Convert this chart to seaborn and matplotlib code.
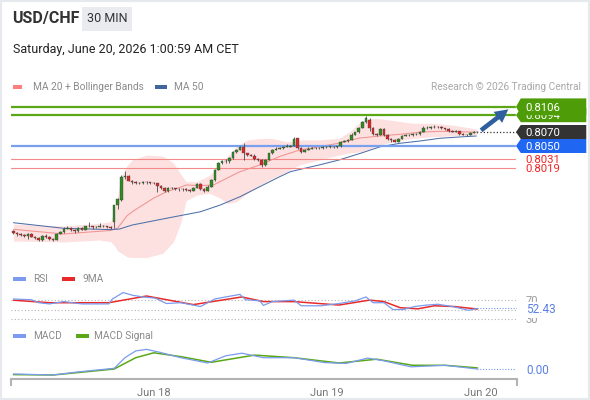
import numpy as np
import matplotlib
matplotlib.use("Agg")
import matplotlib.pyplot as plt
from matplotlib.patches import Polygon, Rectangle, FancyArrowPatch
import seaborn as sns

# ----------------------------------------------------------------------
# Data (USD/CHF, 30 min candles, oldest first)
# ----------------------------------------------------------------------
opens = [
    0.79286, 0.79257, 0.79236, 0.79229, 0.79221, 0.79236, 0.79207, 0.79186, 0.79150, 0.79214,
    0.79200, 0.79171, 0.79157, 0.79243, 0.79271, 0.79321, 0.79329, 0.79300, 0.79279, 0.79329,
    0.79307, 0.79350, 0.79350, 0.79336, 0.79343, 0.79350, 0.79350, 0.79343, 0.79414, 0.79657,
    0.79729, 0.80064, 0.80071, 0.80004, 0.79979, 0.79967, 0.79971, 0.79981, 0.79979, 0.79976,
    0.79967, 0.79929, 0.79900, 0.79853, 0.79900, 0.79896, 0.79890, 0.79879, 0.79881, 0.79871,
    0.79857, 0.79907, 0.79957, 0.79886, 0.79857, 0.79921, 0.80014, 0.80157, 0.80257, 0.80279,
    0.80279, 0.80329, 0.80414, 0.80443, 0.80479, 0.80393, 0.80371, 0.80364, 0.80314, 0.80300,
    0.80229, 0.80300, 0.80396, 0.80443, 0.80464, 0.80467, 0.80486, 0.80490, 0.80504, 0.80610,
    0.80471, 0.80421, 0.80443, 0.80464, 0.80467, 0.80476, 0.80467, 0.80481, 0.80486, 0.80490,
    0.80481, 0.80493, 0.80557, 0.80571, 0.80586, 0.80664, 0.80693, 0.80757, 0.80836, 0.80871,
    0.80753, 0.80671, 0.80664, 0.80743, 0.80657, 0.80600, 0.80579, 0.80564, 0.80607, 0.80643,
    0.80657, 0.80653, 0.80671, 0.80671, 0.80700, 0.80764, 0.80753, 0.80767, 0.80776, 0.80767,
    0.80757, 0.80743, 0.80721, 0.80707, 0.80714, 0.80671, 0.80661, 0.80657, 0.80686, 0.80696,
]
highs = [
    0.79300, 0.79271, 0.79250, 0.79243, 0.79250, 0.79250, 0.79221, 0.79200, 0.79229, 0.79236,
    0.79214, 0.79186, 0.79257, 0.79286, 0.79336, 0.79357, 0.79343, 0.79314, 0.79343, 0.79343,
    0.79364, 0.79414, 0.79364, 0.79364, 0.79400, 0.79371, 0.79364, 0.79364, 0.79664, 0.79757,
    0.80079, 0.80147, 0.80086, 0.80014, 0.79993, 0.79986, 0.79993, 0.79993, 0.79990, 0.79986,
    0.79971, 0.79943, 0.79914, 0.79914, 0.79914, 0.79907, 0.79900, 0.79900, 0.79893, 0.79886,
    0.79921, 0.79971, 0.79971, 0.79900, 0.79936, 0.80029, 0.80171, 0.80271, 0.80300, 0.80314,
    0.80343, 0.80429, 0.80464, 0.80500, 0.80543, 0.80407, 0.80386, 0.80379, 0.80329, 0.80314,
    0.80314, 0.80407, 0.80457, 0.80479, 0.80486, 0.80500, 0.80529, 0.80521, 0.80629, 0.80621,
    0.80479, 0.80457, 0.80479, 0.80479, 0.80490, 0.80486, 0.80493, 0.80500, 0.80507, 0.80500,
    0.80507, 0.80571, 0.80586, 0.80600, 0.80679, 0.80707, 0.80771, 0.80850, 0.80929, 0.80893,
    0.80771, 0.80686, 0.80757, 0.80757, 0.80671, 0.80614, 0.80593, 0.80621, 0.80657, 0.80671,
    0.80671, 0.80686, 0.80686, 0.80714, 0.80779, 0.80779, 0.80786, 0.80793, 0.80786, 0.80779,
    0.80764, 0.80750, 0.80729, 0.80729, 0.80721, 0.80679, 0.80671, 0.80700, 0.80714, 0.80714,
]
lows = [
    0.79240, 0.79221, 0.79214, 0.79207, 0.79171, 0.79193, 0.79171, 0.79136, 0.79143, 0.79186,
    0.79157, 0.79143, 0.79150, 0.79236, 0.79264, 0.79314, 0.79286, 0.79264, 0.79271, 0.79293,
    0.79300, 0.79336, 0.79321, 0.79329, 0.79336, 0.79336, 0.79329, 0.79314, 0.79329, 0.79600,
    0.79714, 0.80029, 0.79993, 0.79964, 0.79950, 0.79957, 0.79957, 0.79964, 0.79964, 0.79950,
    0.79849, 0.79886, 0.79836, 0.79843, 0.79879, 0.79871, 0.79864, 0.79864, 0.79857, 0.79843,
    0.79850, 0.79900, 0.79871, 0.79843, 0.79850, 0.79914, 0.80007, 0.80150, 0.80243, 0.80264,
    0.80264, 0.80321, 0.80407, 0.80436, 0.80300, 0.80357, 0.80350, 0.80300, 0.80279, 0.80200,
    0.80214, 0.80293, 0.80386, 0.80436, 0.80450, 0.80457, 0.80479, 0.80479, 0.80500, 0.80464,
    0.80400, 0.80414, 0.80436, 0.80450, 0.80457, 0.80457, 0.80457, 0.80471, 0.80471, 0.80471,
    0.80471, 0.80486, 0.80550, 0.80564, 0.80579, 0.80657, 0.80686, 0.80750, 0.80829, 0.80721,
    0.80657, 0.80643, 0.80650, 0.80643, 0.80586, 0.80564, 0.80550, 0.80557, 0.80600, 0.80636,
    0.80643, 0.80643, 0.80657, 0.80664, 0.80693, 0.80743, 0.80743, 0.80757, 0.80757, 0.80743,
    0.80729, 0.80707, 0.80693, 0.80700, 0.80657, 0.80650, 0.80643, 0.80650, 0.80679, 0.80686,
]
closes = [
    0.79257, 0.79236, 0.79229, 0.79221, 0.79236, 0.79207, 0.79186, 0.79150, 0.79214, 0.79200,
    0.79171, 0.79157, 0.79243, 0.79271, 0.79321, 0.79329, 0.79300, 0.79279, 0.79329, 0.79307,
    0.79350, 0.79350, 0.79336, 0.79343, 0.79350, 0.79350, 0.79343, 0.79329, 0.79650, 0.79736,
    0.80061, 0.80071, 0.80004, 0.79979, 0.79967, 0.79971, 0.79981, 0.79979, 0.79976, 0.79967,
    0.79929, 0.79900, 0.79853, 0.79900, 0.79896, 0.79890, 0.79879, 0.79881, 0.79871, 0.79857,
    0.79907, 0.79957, 0.79886, 0.79857, 0.79921, 0.80014, 0.80157, 0.80257, 0.80279, 0.80279,
    0.80329, 0.80414, 0.80443, 0.80479, 0.80393, 0.80371, 0.80364, 0.80314, 0.80300, 0.80229,
    0.80300, 0.80396, 0.80443, 0.80464, 0.80467, 0.80486, 0.80490, 0.80504, 0.80607, 0.80471,
    0.80421, 0.80443, 0.80464, 0.80467, 0.80476, 0.80467, 0.80481, 0.80486, 0.80490, 0.80481,
    0.80493, 0.80557, 0.80571, 0.80586, 0.80664, 0.80693, 0.80757, 0.80836, 0.80893, 0.80753,
    0.80671, 0.80664, 0.80743, 0.80657, 0.80600, 0.80579, 0.80564, 0.80607, 0.80643, 0.80657,
    0.80653, 0.80671, 0.80671, 0.80700, 0.80764, 0.80753, 0.80767, 0.80776, 0.80767, 0.80757,
    0.80743, 0.80721, 0.80707, 0.80714, 0.80671, 0.80661, 0.80657, 0.80686, 0.80696, 0.80700,
]

# indicators, sampled along the candle index
bb_idx = [0, 14, 24, 27, 28, 29, 30, 31.5, 33, 37, 41.5, 44.5, 46.5, 48, 51, 54.5, 57.5,
          59.5, 62, 65, 68.5, 72, 76, 79.5, 85, 90.5, 93.5, 96.5, 99, 102, 105.5, 111,
          116.5, 122, 128.7]
bb_upper = [0.79386, 0.79357, 0.79396, 0.79419, 0.79557, 0.79800, 0.80071, 0.80214, 0.80300,
            0.80371, 0.80357, 0.80257, 0.80100, 0.79990, 0.79990, 0.80080, 0.80229, 0.80350,
            0.80490, 0.80586, 0.80607, 0.80607, 0.80561, 0.80586, 0.80586, 0.80610, 0.80704,
            0.80847, 0.80896, 0.80890, 0.80864, 0.80824, 0.80824, 0.80800, 0.80743]
bb_lower = [0.79143, 0.79129, 0.79157, 0.79133, 0.79080, 0.79000, 0.78970, 0.78919, 0.78907,
            0.78907, 0.78967, 0.79133, 0.79400, 0.79720, 0.79800, 0.79824, 0.79753, 0.79681,
            0.79704, 0.79824, 0.79943, 0.80039, 0.80133, 0.80229, 0.80300, 0.80371, 0.80400,
            0.80419, 0.80460, 0.80514, 0.80561, 0.80610, 0.80633, 0.80647, 0.80667]

ma20_idx = [0, 7, 14, 20, 27, 29, 31.5, 33.3, 38.9, 42.6, 48.2, 51.9, 55.6, 59.3, 63, 68.5,
            74, 79.6, 85.2, 90.7, 96.3, 101.9, 107.4, 113, 118.5, 124, 128.7]
ma20 = [0.79310, 0.79276, 0.79243, 0.79267, 0.79293, 0.79329, 0.79500, 0.79570, 0.79753,
        0.79847, 0.79943, 0.79933, 0.79943, 0.80039, 0.80133, 0.80229, 0.80350, 0.80443,
        0.80490, 0.80543, 0.80614, 0.80643, 0.80667, 0.80697, 0.80710, 0.80703, 0.80697]

ma50_idx = [0, 14, 24, 27, 29.5, 33, 42.5, 52, 57.5, 63, 68.5, 74, 77, 79.5, 85, 90.5,
            96.5, 102, 107.5, 113, 118.5, 124, 128.7]
ma50 = [0.79404, 0.79324, 0.79310, 0.79305, 0.79314, 0.79371, 0.79467, 0.79561, 0.79657,
        0.79776, 0.79919, 0.80061, 0.80133, 0.80164, 0.80229, 0.80300, 0.80396, 0.80490,
        0.80539, 0.80571, 0.80610, 0.80629, 0.80643]

rsi_idx = [0, 5, 7, 10, 14, 19, 26.5, 27.5, 30.5, 33, 36, 39.5, 42.5, 46.5, 52, 56, 59, 63,
           64.5, 68.5, 69.5, 72, 78, 80, 85.5, 90.5, 95, 98, 100, 103, 105.5, 108.5, 111.5,
           115, 118, 122, 126.5, 129]
rsi_vals = [72.6, 71, 64.6, 62, 67, 62, 62, 72.6, 86.5, 80.8, 77, 74.3, 62.9, 64.6, 56.4,
            72.6, 77, 82.5, 71, 68.6, 58.8, 67, 70.2, 58, 58, 62.9, 68.6, 77, 64.6, 64.6,
            50, 50, 56.4, 59.6, 61.3, 56.4, 48.3, 52.43]
rsi_ma_idx = [0, 10, 26.5, 37, 50, 63.5, 69.5, 78, 90.5, 99, 103, 107.5, 112.5, 117, 122.5, 129]
rsi_ma_vals = [70, 64.6, 64.6, 79, 60.5, 77, 67, 67, 59.6, 70.2, 67, 53.9, 51.5, 58, 56.4, 51]
rsi_levels = [70, 50, 30]

macd_idx = [0, 11, 17.5, 28, 31, 34, 37, 40.5, 46.5, 54, 59, 63.5, 69.5, 78, 86.5, 92.5,
            98.5, 103, 110.5, 120, 129]
macd_vals = [-0.00025, -0.0003, -0.000155, 0.000035, 0.000565, 0.000905, 0.00098, 0.000845,
             0.000565, 0.0003, 0.00066, 0.00079, 0.000565, 0.000565, 0.00032, 0.00028,
             0.000545, 0.00041, 0.00011, 0.000185, 0.0]
sig_idx = [0, 11, 28, 34, 39, 46.5, 55, 67, 78, 90.5, 101, 111, 120, 129]
sig_vals = [-0.00028, -0.0003, 0.0, 0.000565, 0.00081, 0.00062, 0.000335, 0.000695,
            0.000565, 0.0003, 0.00049, 0.000185, 0.000185, 0.000055]

tick_pos = [39, 87, 130]
tick_labels = ["Jun 18", "Jun 19", "Jun 20"]

resistances = [0.8106, 0.8094]
pivot = 0.8050
supports = [0.8031, 0.8019]

# ----------------------------------------------------------------------
# Theme
# ----------------------------------------------------------------------
PALETTE = {
    "up": "#2f8c24",
    "down": "#d92a2a",
    "wick": "#4a4a4a",
    "band": "#fde0e0",
    "ma20": "#f29393",
    "ma50": "#4d70aa",
    "green": "#5aa816",
    "tag_green": "#4e9d08",
    "tag_dark": "#333333",
    "tag_blue": "#1f66f2",
    "pivot": "#79a0ef",
    "support": "#f28a8a",
    "support_txt": "#f02424",
    "rsi": "#7a9bee",
    "rsi_ma": "#e82a2a",
    "arrow": "#2f5f9f",
    "grey_txt": "#8a8a8a",
}

W, H = 590, 400
XLIM = (-0.6, 140)


def fx(x):
    return x / W


def fy(y):
    return 1 - y / H


sns.set_theme(style="white")
plt.rcParams["font.family"] = ["Roboto", "DejaVu Sans"]

fig = plt.figure(figsize=(W / 100, H / 100), dpi=100)
fig.patch.set_facecolor("white")

left, width = fx(11.3), 505.7 / W
ax = fig.add_axes([left, fy(265), width, 167 / H])
ax_rsi = fig.add_axes([left, fy(325), width, 35 / H])
ax_macd = fig.add_axes([left, fy(378.5), width, 35.5 / H])

for a in (ax, ax_rsi, ax_macd):
    a.set_facecolor("none")
    a.set_xlim(*XLIM)
    for s in a.spines.values():
        s.set_visible(False)
    a.set_xticks([])
    a.set_yticks([])

# ----------------------------------------------------------------------
# Main price panel
# ----------------------------------------------------------------------
ax.set_ylim(0.78800, 0.811857)
ax.fill_between(bb_idx, bb_lower, bb_upper, color=PALETTE["band"], lw=0, zorder=1)
sns.lineplot(x=ma20_idx, y=ma20, ax=ax, color=PALETTE["ma20"], lw=0.75,
             estimator=None, sort=False, zorder=2)
sns.lineplot(x=ma50_idx, y=ma50, ax=ax, color=PALETTE["ma50"], lw=0.75,
             estimator=None, sort=False, zorder=2)

for lvl in resistances:
    ax.axhline(lvl, xmin=0, xmax=0.996, color=PALETTE["green"], lw=1.6, zorder=2)
ax.axhline(pivot, xmin=0, xmax=0.996, color=PALETTE["pivot"], lw=1.6, zorder=2)
for lvl in supports:
    ax.axhline(lvl, xmin=0, xmax=0.996, color=PALETTE["support"], lw=0.8, zorder=2)

o = np.array(opens)
c = np.array(closes)
x = np.arange(len(c))
up = c >= o
ax.vlines(x, lows, highs, color=PALETTE["wick"], lw=0.6, zorder=3)
ax.bar(x, np.maximum(np.abs(c - o), 0.00007), bottom=np.minimum(o, c), width=0.72,
       color=np.where(up, PALETTE["up"], PALETTE["down"]), edgecolor="#3a3a3a",
       linewidth=0.25, zorder=4)

# last price dotted line + projection arrow
ax.hlines(c[-1], x[-1] + 0.6, XLIM[1], colors="#333333", linestyles=(0, (1, 1.6)), lw=0.9, zorder=3)
ax.add_patch(FancyArrowPatch((x[-1] + 0.4, c[-1]), (x[-1] + 9.2, resistances[0] - 0.00012),
                             arrowstyle="simple,head_length=0.95,head_width=1.0,tail_width=0.33",
                             mutation_scale=10, color=PALETTE["arrow"], lw=0,
                             clip_on=False, zorder=7))

tr = ax.get_yaxis_transform()


def price_tag(price, face, z, h=0.0020):
    x_tip, x_body, x_end = 0.998, 1.0075, 1.137
    ax.add_patch(Polygon([(x_tip, price), (x_body, price + h / 2), (x_end, price + h / 2),
                          (x_end, price - h / 2), (x_body, price - h / 2)],
                         closed=True, transform=tr, facecolor=face, edgecolor="none",
                         clip_on=False, zorder=z))
    ax.text(1.0165, price, f"{price:.4f}", transform=tr, color="white", fontsize=8.2,
            va="center_baseline", ha="left", clip_on=False, zorder=z + 0.5)


for lvl in supports:
    ax.text(1.0165, lvl, f"{lvl:.4f}", transform=tr, color=PALETTE["support_txt"], fontsize=8.2,
            va="center_baseline", ha="left", clip_on=False, zorder=5)
price_tag(pivot, PALETTE["tag_blue"], 6)
price_tag(c[-1], PALETTE["tag_dark"], 6)
price_tag(resistances[1], PALETTE["tag_green"], 6)
price_tag(resistances[0], PALETTE["tag_green"], 8, h=0.0024)

# ----------------------------------------------------------------------
# RSI panel
# ----------------------------------------------------------------------
ax_rsi.set_ylim(16.67, 91.94)
for lvl in rsi_levels:
    ax_rsi.axhline(lvl, color="#b5b5b5", lw=0.8, ls=(0, (1, 2)), zorder=1)
sns.lineplot(x=rsi_idx, y=rsi_vals, ax=ax_rsi, color=PALETTE["rsi"], lw=0.9,
             estimator=None, sort=False, zorder=3)
sns.lineplot(x=rsi_ma_idx, y=rsi_ma_vals, ax=ax_rsi, color=PALETTE["rsi_ma"], lw=1.1,
             estimator=None, sort=False, zorder=2)
ax_rsi.hlines(rsi_vals[-1], rsi_idx[-1], XLIM[1], colors=PALETTE["rsi"], lw=0.8,
              linestyles=(0, (1, 1.5)), zorder=2)
trr = ax_rsi.get_yaxis_transform()
for lvl in (rsi_levels[0], rsi_levels[2]):
    ax_rsi.text(1.0175, lvl, f"{lvl}", transform=trr, color="#9a9a9a", fontsize=8,
                va="center_baseline", ha="left", clip_on=False, zorder=4)
ax_rsi.text(1.0175, rsi_vals[-1], f"{rsi_vals[-1]:.2f}", transform=trr, color="#5a7fe6",
            fontsize=8.5, va="center_baseline", ha="left", clip_on=False, zorder=5,
            bbox=dict(facecolor="white", edgecolor="none", pad=1.2))

# ----------------------------------------------------------------------
# MACD panel
# ----------------------------------------------------------------------
ax_macd.set_ylim(-0.000475, 0.0013)
sns.lineplot(x=macd_idx, y=macd_vals, ax=ax_macd, color=PALETTE["rsi"], lw=0.9,
             estimator=None, sort=False, zorder=3)
sns.lineplot(x=sig_idx, y=sig_vals, ax=ax_macd, color=PALETTE["green"], lw=1.1,
             estimator=None, sort=False, zorder=2)
ax_macd.hlines(macd_vals[-1], macd_idx[-1], XLIM[1] - 0.5, colors=PALETTE["rsi"], lw=0.8,
               linestyles=(0, (1, 1.5)), zorder=2)
ax_macd.text(1.0195, macd_vals[-1], f"{macd_vals[-1]:.2f}", transform=ax_macd.get_yaxis_transform(),
             color="#5a7fe6", fontsize=8.5, va="center_baseline", ha="left", clip_on=False)

ax_macd.spines["bottom"].set_visible(True)
ax_macd.spines["bottom"].set_color("#b3b3b3")
ax_macd.spines["bottom"].set_linewidth(1.5)
ax_macd.set_xticks(tick_pos, tick_labels)
ax_macd.set_xticks(list(XLIM), minor=True)
ax_macd.tick_params(axis="x", which="major", length=0, pad=7, labelsize=8, labelcolor="#777777")
ax_macd.tick_params(axis="x", which="minor", length=5, width=1.5, color="#b3b3b3",
                    direction="out", bottom=True)

# ----------------------------------------------------------------------
# Header, legends, frame
# ----------------------------------------------------------------------
fig.text(fx(12), fy(19), "USD/CHF", fontsize=11.5, fontweight="bold", color="#333333",
         va="center", ha="left")
fig.add_artist(Rectangle((fx(82), fy(30.7)), 50 / W, 24 / H, transform=fig.transFigure,
                         facecolor="#e9ebee", edgecolor="none"))
fig.text(fx(107), fy(19), "30 MIN", fontsize=9, color="#333333", va="center", ha="center")
fig.text(fx(13), fy(53), "Saturday, June 20, 2026 1:00:59 AM CET", fontsize=9,
         color="#222222", va="baseline", ha="left")


def legend_item(x0, y0, w, color, label, tx):
    fig.add_artist(Rectangle((fx(x0), fy(y0 + 2)), w / W, 4 / H, transform=fig.transFigure,
                             facecolor=color, edgecolor="none"))
    fig.text(fx(tx), fy(y0), label, fontsize=7.3, color=PALETTE["grey_txt"],
             va="center", ha="left")


legend_item(13.3, 86.5, 9, "#ff7e7e", "MA 20 + Bollinger Bands", 33.3)
legend_item(155, 86.5, 11.5, "#40659f", "MA 50", 174.3)
fig.text(fx(581), fy(86.5), "Research \u00a9 2026 Trading Central", fontsize=7.3,
         color="#a8a8a8", va="center", ha="right")

legend_item(13.2, 279.3, 13, PALETTE["rsi"], "RSI", 33.2)
legend_item(62.3, 279.3, 13, PALETTE["rsi_ma"], "9MA", 82.3)
legend_item(13.2, 336.2, 13, PALETTE["rsi"], "MACD", 33.2)
legend_item(75.5, 336.2, 13, PALETTE["green"], "MACD Signal", 94.3)

fig.add_artist(Rectangle((0, 0), 1, 1, transform=fig.transFigure, fill=False,
                         edgecolor="#e6e9ed", lw=3))

fig.savefig("out.png", dpi=100)
